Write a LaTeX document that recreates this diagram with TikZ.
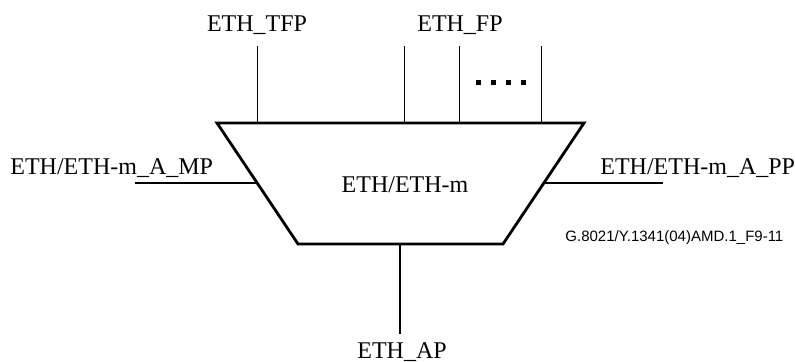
\documentclass[tikz,border=0pt]{standalone}
\usepackage{fontspec}
\setmainfont{Liberation Serif}
\newfontfamily\codefont{Liberation Sans}
\usetikzlibrary{positioning}

\begin{document}
\begin{tikzpicture}[x=0.5pt,y=-0.5pt,
    every node/.style={inner sep=0pt,font=\fontsize{12}{14}\selectfont},
    port/.style={line width=0.5pt},
    sideport/.style={line width=1.2pt},
    func/.style={line width=1.4pt,line join=miter}]
    \useasboundingbox (0,0) rectangle (795,362);
    % trapezoid corners
    \coordinate (tl) at (217,123);
    \coordinate (tr) at (584,123);
    \coordinate (br) at (503,244);
    \coordinate (bl) at (298,244);
    \draw[func] (tl) -- (tr) -- (br) -- (bl) -- cycle;
    \node (fn) at (405,185) {ETH/ETH-m};
    % top ports
    \foreach \x [count=\i] in {257,404,459,541} {
      \coordinate (top\i) at (\x,123);
      \coordinate (end\i) at (\x,46);
      \draw[port] (top\i) -- (end\i);
    }
    \node (tfp) at (257,25) {ETH\_TFP};
    \node (fp) at (460,25) {ETH\_FP};
    \foreach \x in {478,493,508,523}
      \fill (\x-2.5,80.5) rectangle ++(5,5);
    % side ports
    \coordinate (mpa) at (257,183);
    \coordinate (mpb) at (135,183);
    \draw[sideport] (mpa) -- (mpb);
    \node[anchor=base west] (mp) at (10,175) {ETH/ETH-m\_A\_MP};
    \coordinate (ppa) at (543,183);
    \coordinate (ppb) at (663,183);
    \draw[sideport] (ppa) -- (ppb);
    \node[anchor=base west] (pp) at (600,175) {ETH/ETH-m\_A\_PP};
    % bottom port
    \coordinate (apa) at (400,244);
    \coordinate (apb) at (400,334);
    \draw[line width=1pt] (apa) -- (apb);
    \node[anchor=base] (ap) at (402,358) {ETH\_AP};
    \node[anchor=base west,font=\codefont\fontsize{7.5}{9}\selectfont] (code) at (565,242) {G.8021/Y.1341(04)AMD.1\_F9-11};
\end{tikzpicture}
\end{document}
